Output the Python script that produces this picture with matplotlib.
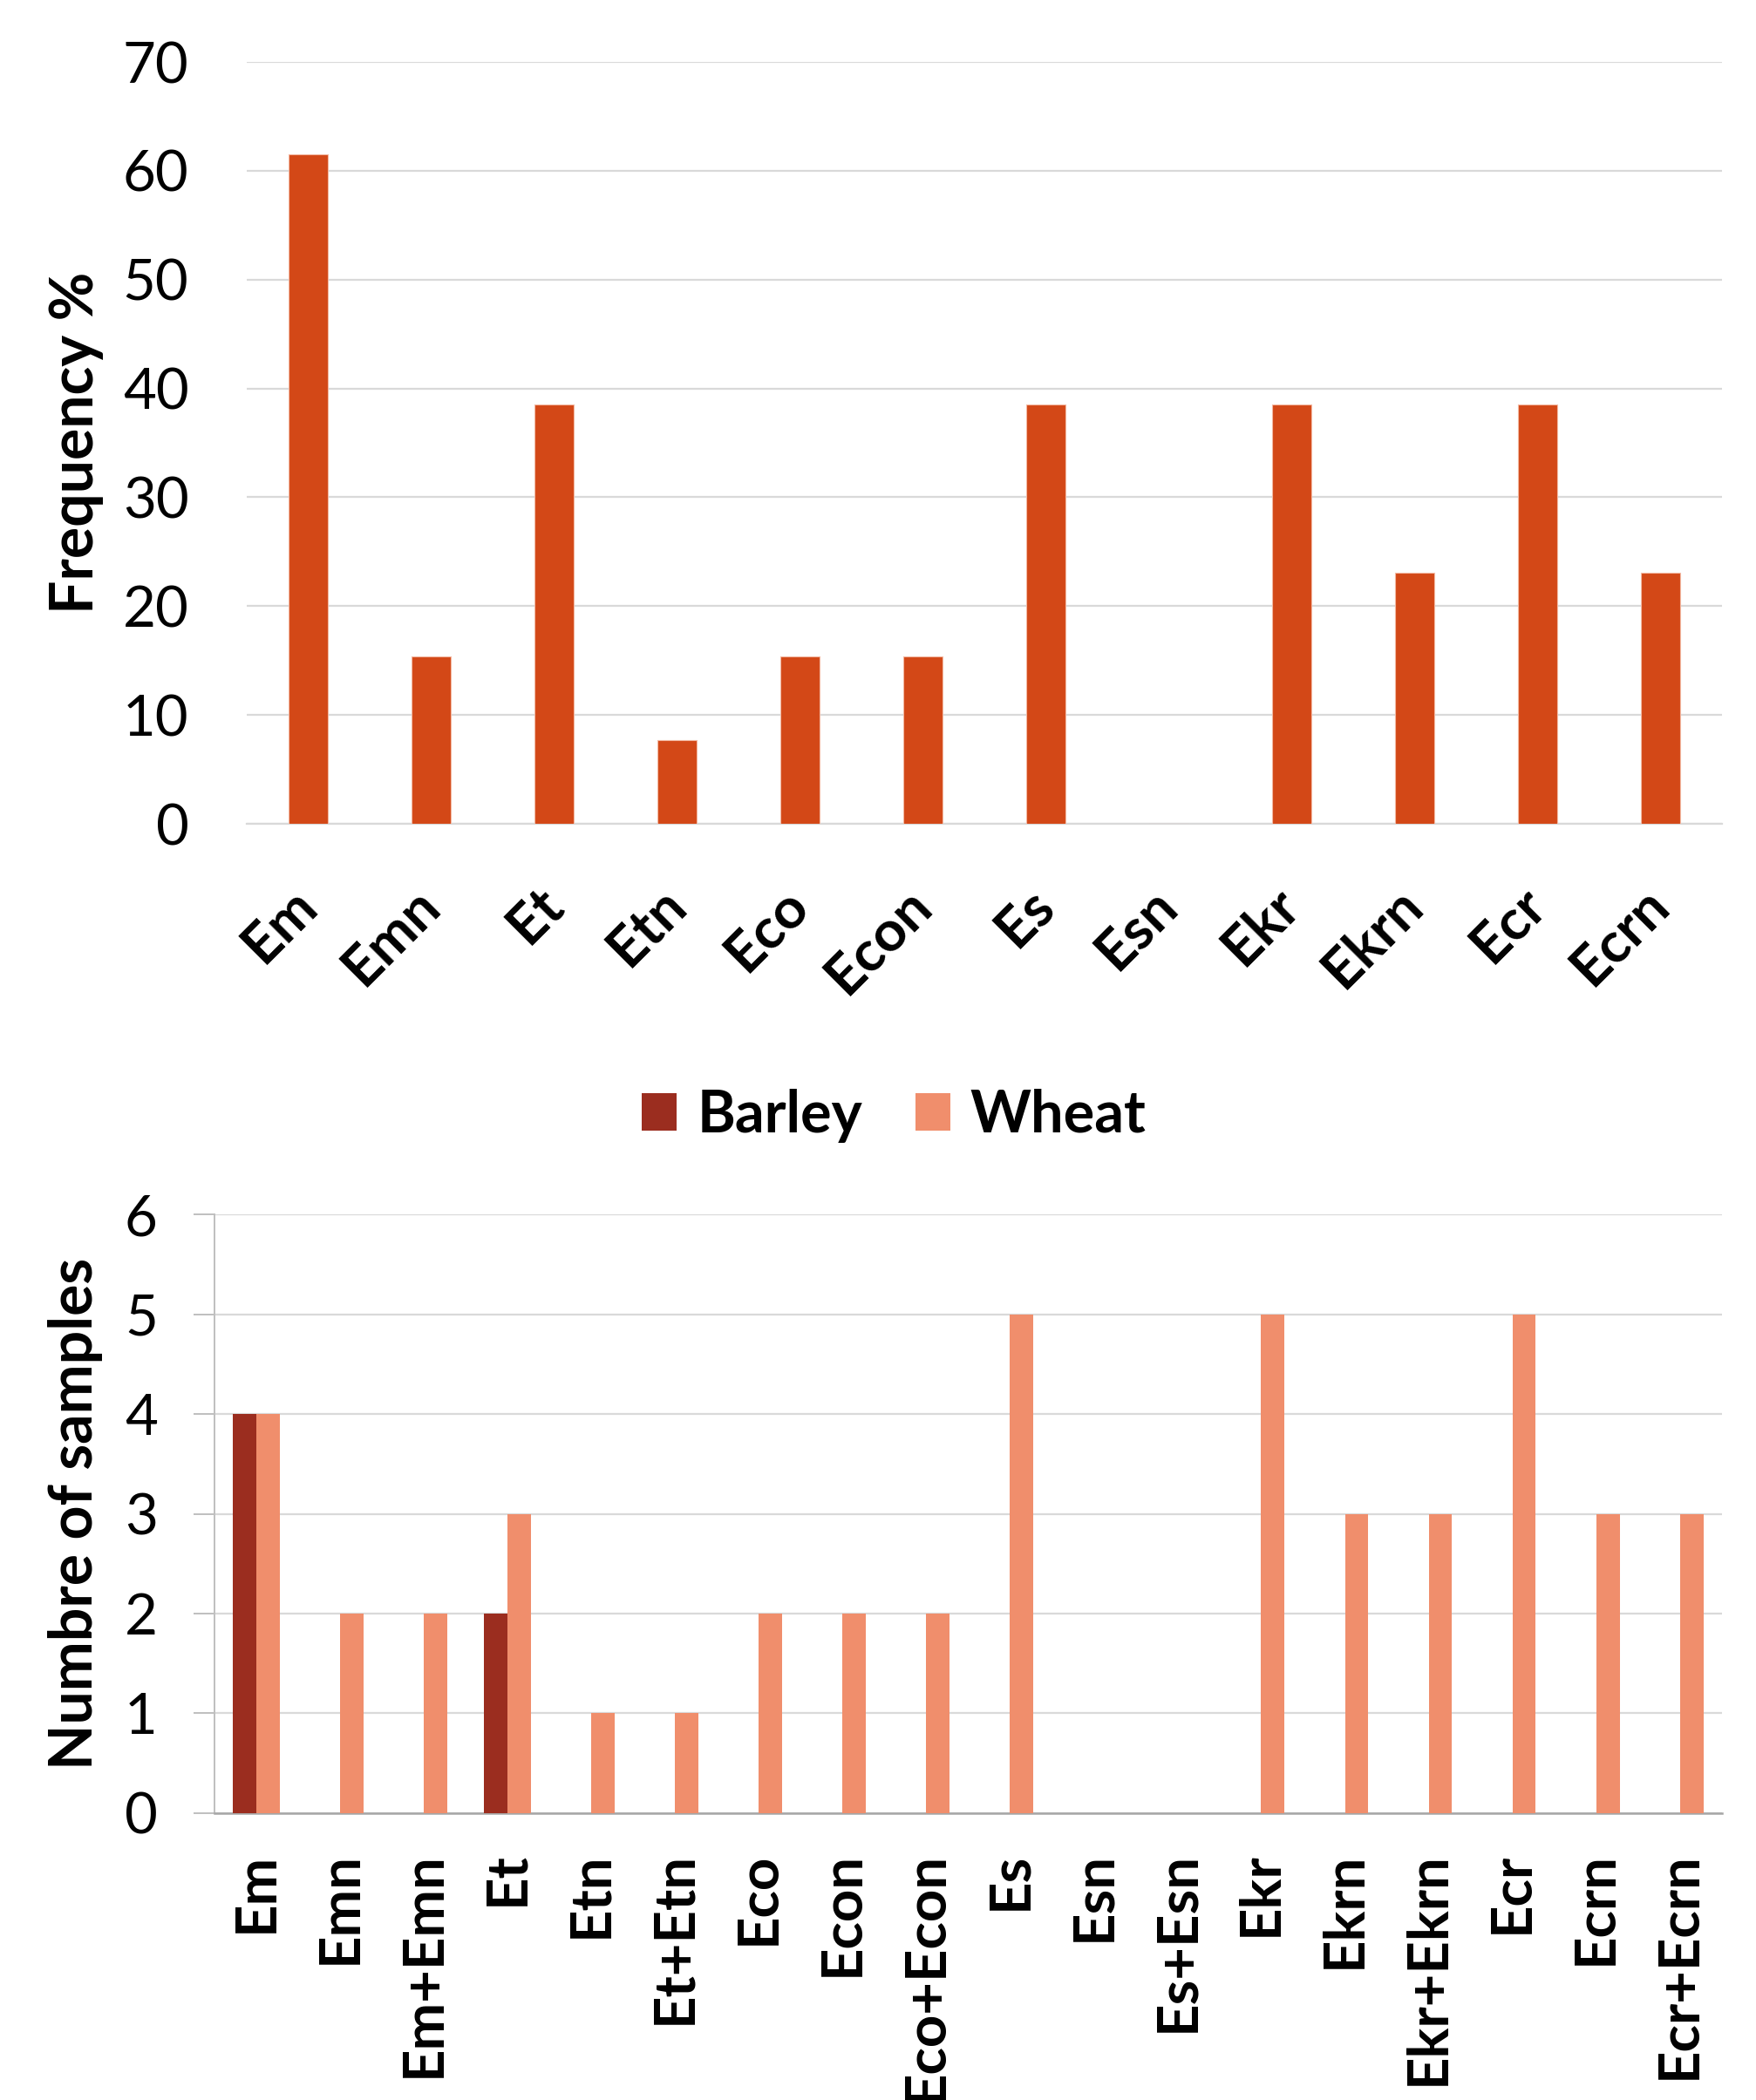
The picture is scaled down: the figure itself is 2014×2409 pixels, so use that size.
import matplotlib
matplotlib.use("Agg")
import matplotlib.pyplot as plt
import numpy as np
from matplotlib.patches import Patch

plt.rcParams['font.family'] = ['Lato', 'DejaVu Sans']

# ---- data ----
top_categories = ["Em", "Emn", "Et", "Etn", "Eco", "Econ", "Es", "Esn", "Ekr", "Ekrn", "Ecr", "Ecrn"]
top_freq = [61.5, 15.4, 38.5, 7.7, 15.4, 15.4, 38.5, 0, 38.5, 23.1, 38.5, 23.1]
top_yticks = [0, 10, 20, 30, 40, 50, 60, 70]

bottom_categories = ["Em", "Emn", "Em+Emn", "Et", "Etn", "Et+Etn", "Eco", "Econ", "Eco+Econ",
                     "Es", "Esn", "Es+Esn", "Ekr", "Ekrn", "Ekr+Ekrn", "Ecr", "Ecrn", "Ecr+Ecrn"]
barley = [4, 0, 0, 2, 0, 0, 0, 0, 0, 0, 0, 0, 0, 0, 0, 0, 0, 0]
wheat = [4, 2, 2, 3, 1, 1, 2, 2, 2, 5, 0, 0, 5, 3, 3, 5, 3, 3]
bottom_yticks = [0, 1, 2, 3, 4, 5, 6]
series_names = ["Barley", "Wheat"]

# ---- style ----
FS = 47
top_color = "#D34817"
barley_color = "#9B2D1F"
wheat_color = "#F08E6C"
grid_color = "#D9D9D9"

fig = plt.figure(figsize=(20.15, 24.09), dpi=100)

# ---- top chart ----
ax1 = fig.add_axes([0.1405, 0.6077, 0.8395, 0.3628])
x1 = np.arange(len(top_categories))
ax1.bar(x1, top_freq, width=0.32, color=top_color, edgecolor="#F3B9A3", linewidth=0.8, zorder=3)
ax1.set_xlim(-0.5, len(top_categories) - 0.5)
ax1.set_ylim(0, 70)
ax1.set_yticks(top_yticks)
ax1.set_yticklabels([str(v) for v in top_yticks], fontsize=FS)
ax1.set_xticks(x1)
ax1.set_xticklabels(top_categories, fontsize=FS, fontweight="bold", rotation=45,
                    ha="right", va="center", rotation_mode="anchor")
ax1.tick_params(axis="x", length=0, pad=60)
ax1.tick_params(axis="y", length=0, pad=48)
ax1.grid(axis="y", color=grid_color, linewidth=1.6, zorder=0)
for s in ["top", "right", "left"]:
    ax1.spines[s].set_visible(False)
ax1.spines["bottom"].set_color(grid_color)
ax1.spines["bottom"].set_linewidth(1.6)
ax1.set_ylabel("Frequency %", fontsize=FS + 2, fontweight="bold")
ax1.yaxis.set_label_coords(-0.097, 0.5)

# ---- bottom chart ----
ax2 = fig.add_axes([0.1221, 0.1366, 0.8579, 0.2851])
x2 = np.arange(len(bottom_categories))
w = 0.28
ax2.bar(x2 - w / 2, barley, width=w, color=barley_color, zorder=3, label=series_names[0])
ax2.bar(x2 + w / 2, wheat, width=w, color=wheat_color, zorder=3, label=series_names[1])
ax2.set_xlim(-0.5, len(bottom_categories) - 0.5)
ax2.set_ylim(0, 6)
ax2.set_yticks(bottom_yticks)
ax2.set_yticklabels([str(v) for v in bottom_yticks], fontsize=FS)
ax2.set_xticks(x2)
ax2.set_xticklabels(bottom_categories, fontsize=FS, fontweight="bold", rotation=90,
                    ha="center", va="top")
ax2.tick_params(axis="x", length=0, pad=32)
ax2.tick_params(axis="y", length=17, width=1.4, color="#BFBFBF", pad=30)
ax2.grid(axis="y", color=grid_color, linewidth=1.6, zorder=0)
for s in ["top", "right"]:
    ax2.spines[s].set_visible(False)
ax2.spines["left"].set_color("#BFBFBF")
ax2.spines["left"].set_linewidth(1.4)
ax2.spines["bottom"].set_color("#A6A6A6")
ax2.spines["bottom"].set_linewidth(1.8)
ax2.set_ylabel("Numbre of samples", fontsize=FS + 2, fontweight="bold")
ax2.yaxis.set_label_coords(-0.074, 0.5)

handles = [Patch(facecolor=barley_color), Patch(facecolor=wheat_color)]
fig.legend(handles, series_names, loc="center", bbox_to_anchor=(0.509, 0.4687), ncol=2,
           frameon=False, prop={"size": FS + 1, "weight": "bold"},
           handlelength=0.6, handleheight=0.6, handletextpad=0.35, columnspacing=0.9)

fig.savefig("out.png", dpi=100, facecolor="white")
